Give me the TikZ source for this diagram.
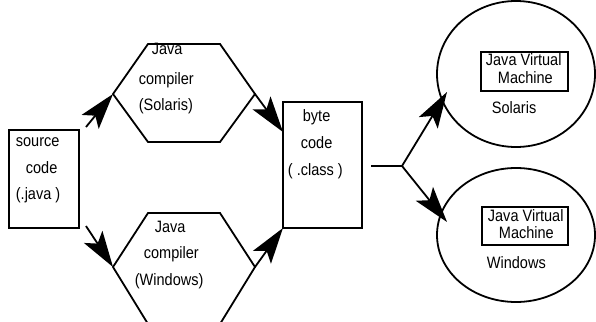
\documentclass[tikz,border=0pt]{standalone}
\usepackage{fontspec}
\newfontfamily\diagfamily[FakeStretch=0.88]{Liberation Sans}
\usetikzlibrary{arrows.meta, shapes.geometric}
\tikzset{box/.style={draw, rectangle, inner sep=0pt, outer sep=0pt},
	oval/.style={draw, ellipse, inner sep=0pt, outer sep=0pt},
	arrow/.style={-{Stealth[length=36pt, width=22pt, inset=8pt]}},
	txt/.style={anchor=base west, inner sep=0pt, font=\diagfamily\fontsize{16.5}{19}\selectfont}}

\begin{document}
\begin{tikzpicture}[x=1pt, y=-1pt, line width=1.8pt]
	\useasboundingbox (0,0) rectangle (596,321);
	% source and byte code
	\node[box, minimum width=70pt, minimum height=98pt] (Source) at (44,179) {};
	\node[txt] (Source l1) at (15,146) {source};
	\node[txt] (Source l2) at (25,173) {code};
	\node[txt] (Source l3) at (15,199) {(.java )};
	\node[box, minimum width=79pt, minimum height=126pt] (Byte Code) at (322.5,165) {};
	\node[txt] (Byte Code l1) at (302,121) {byte};
	\node[txt] (Byte Code l2) at (300,148) {code};
	\node[txt] (Byte Code l3) at (287,175) {( .class )};
	% compilers
	\coordinate (CS w) at (113,94);
	\coordinate (CS nw) at (148,44);
	\coordinate (CS ne) at (220,44);
	\coordinate (CS e) at (255,94);
	\coordinate (CS se) at (220,142);
	\coordinate (CS sw) at (148,142);
	\draw (CS w) -- (CS nw) -- (CS ne) -- (CS e) -- (CS se) -- (CS sw) -- cycle;
	\node[txt] (CS l1) at (151,55) {Java};
	\node[txt] (CS l2) at (138,84) {compiler};
	\node[txt] (CS l3) at (138,110) {(Solaris)};
	\coordinate (CW w) at (113,267);
	\coordinate (CW nw) at (148,213);
	\coordinate (CW ne) at (220,213);
	\coordinate (CW e) at (255,267);
	\coordinate (CW se) at (220,324);
	\coordinate (CW sw) at (148,324);
	\draw (CW w) -- (CW nw) -- (CW ne) -- (CW e) -- (CW se) -- (CW sw) -- cycle;
	\node[txt] (CW l1) at (154,232) {Java};
	\node[txt] (CW l2) at (143,258) {compiler};
	\node[txt] (CW l3) at (134,285) {(Windows)};
	% virtual machines
	\node[oval, minimum width=158pt, minimum height=146pt] (JVM Solaris) at (516,74) {};
	\node[box, minimum width=87pt, minimum height=39pt] (VM Solaris) at (524.5,71.5) {};
	\node[txt] (VM Solaris l1) at (485,65) {Java Virtual};
	\node[txt] (VM Solaris l2) at (497,83) {Machine};
	\node[txt] (JVM Solaris l) at (491,113) {Solaris};
	\node[oval, minimum width=158pt, minimum height=134pt] (JVM Windows) at (516,235) {};
	\node[box, minimum width=86pt, minimum height=38pt] (VM Windows) at (525,226) {};
	\node[txt] (VM Windows l1) at (487,221) {Java Virtual};
	\node[txt] (VM Windows l2) at (498,238) {Machine};
	\node[txt] (JVM Windows l) at (486,268) {Windows};
	% connectors
	\coordinate (Source tail a) at (86,127);
	\coordinate (Source tail b) at (86,226);
	\coordinate (Fork start) at (371,166);
	\coordinate (Fork) at (402,166);
	\coordinate (JVM Solaris tip) at (447,92);
	\coordinate (JVM Windows tip) at (447,222);
	\draw[arrow] (Source tail a) -- (CS w);
	\draw[arrow] (Source tail b) -- (CW w);
	\draw[arrow] (CS e) -- ([yshift=-30pt]Byte Code.north west);
	\draw[arrow] (CW e) -- (Byte Code.south west);
	\draw (Fork start) -- (Fork) edge[arrow] (JVM Solaris tip) edge[arrow] (JVM Windows tip);
\end{tikzpicture}
\end{document}
